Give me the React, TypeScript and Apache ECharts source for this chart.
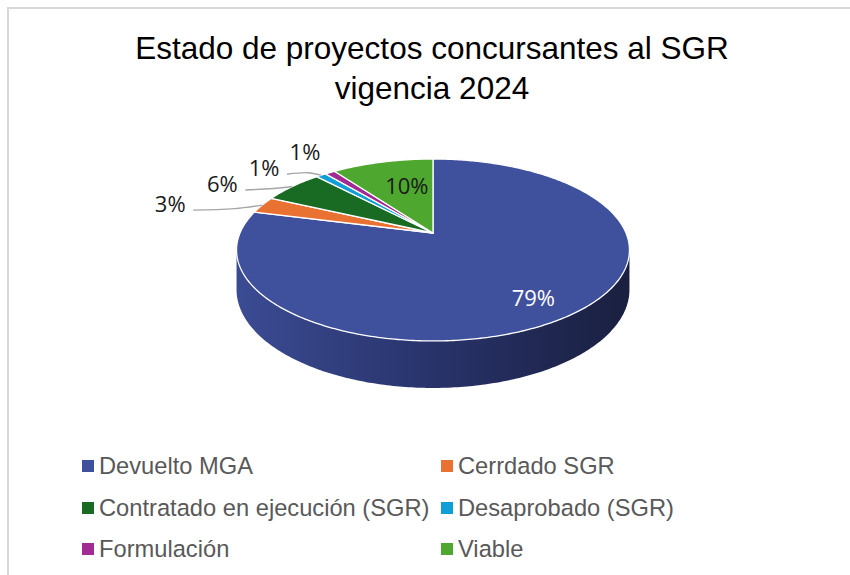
import React, { useEffect, useRef } from 'react';
import * as echarts from 'echarts';

// ---------- data ----------
const categories: string[] = [
  'Devuelto MGA',
  'Cerrdado SGR',
  'Contratado en ejecución (SGR)',
  'Desaprobado (SGR)',
  'Formulación',
  'Viable',
];
const values: number[] = [79, 3, 6, 1, 1, 10];
const titleLines: string[] = ['Estado de proyectos concursantes al SGR', 'vigencia 2024'];

// ---------- styles / layout ----------
const colors = ['#3F519D', '#E97132', '#196B24', '#0F9ED5', '#A02B93', '#4EA72E'];
const labelColors = ['#ffffff', '#1a1a1a', '#1a1a1a', '#1a1a1a', '#1a1a1a', '#1a1a1a'];
// label placement: inside (offset from point at 70% radius) or outside (offset from rim point)
const labelLayout = [
  { inside: true, dx: 8, dy: 10 },
  { inside: false, dx: -92, dy: -2, leader: true },
  { inside: false, dx: -70, dy: -3.5, leader: true },
  { inside: false, dx: -57, dy: -8, leader: true },
  { inside: false, dx: -25, dy: -22, leader: false },
  { inside: true, dx: 11, dy: 4 },
];
const legendPos = [
  { left: 82, top: 452 },
  { left: 441, top: 452 },
  { left: 82, top: 494 },
  { left: 441, top: 494 },
  { left: 82, top: 535 },
  { left: 441, top: 535 },
];

// 3D pie projection parameters (pixels)
const CX = 433;
const CY = 233;
const SX = 193;
const SY = 87.8;
const PB = 0.1868;
const DEPTH = 38.2;

const total = values.reduce((a, b) => a + b, 0);
const starts: number[] = [];
{
  let acc = 0;
  values.forEach((v) => {
    starts.push((acc / total) * Math.PI * 2);
    acc += v;
  });
}
const VIS0 = Math.acos(-PB);
const VIS1 = Math.PI * 2 - VIS0;

function proj(theta: number, r: number, depth = 0): number[] {
  const u = r * Math.sin(theta);
  const v = -r * Math.cos(theta);
  const w = 1 - PB * v;
  const wr = 1 + PB * Math.cos(theta);
  return [CX + (SX * u) / w, CY + (SY * v) / w + (depth * DEPTH) / wr];
}

function arc(a0: number, a1: number, depth: number): number[][] {
  const n = Math.max(2, Math.ceil((a1 - a0) / (Math.PI / 240)));
  const pts: number[][] = [];
  for (let k = 0; k <= n; k++) {
    pts.push(proj(a0 + ((a1 - a0) * k) / n, 1, depth));
  }
  return pts;
}

function sideFill(i: number) {
  if (i === 0) {
    return new echarts.graphic.LinearGradient(
      CX - SX,
      0,
      CX + SX,
      0,
      [
        { offset: 0, color: '#3B4B93' },
        { offset: 0.5, color: '#28336A' },
        { offset: 1, color: '#1A2040' },
      ],
      true
    );
  }
  return echarts.color.lift(colors[i], -0.4);
}

function makeRenderItem(i: number) {
  return (_params: any, _api: any) => {
    const a0 = starts[i];
    const a1 = a0 + (values[i] / total) * Math.PI * 2;
    const children: any[] = [];
    const s0 = Math.max(a0, VIS0);
    const s1 = Math.min(a1, VIS1);
    if (s1 > s0) {
      const topPts = arc(s0, s1, 0);
      const botPts = arc(s0, s1, 1).reverse();
      children.push({
        type: 'polygon',
        shape: { points: topPts.concat(botPts) },
        style: { fill: sideFill(i) },
      });
    }
    children.push({
      type: 'polygon',
      shape: { points: [proj(0, 0)].concat(arc(a0, a1, 0)) },
      style: { fill: colors[i], stroke: '#ffffff', lineWidth: 1.3, lineJoin: 'round' },
    });
    const mid = (a0 + a1) / 2;
    const pct = Math.round((values[i] / total) * 100) + '%';
    const lay: any = labelLayout[i];
    let lx: number;
    let ly: number;
    if (lay.inside) {
      const p = proj(mid, 0.7);
      lx = p[0] + lay.dx;
      ly = p[1] + lay.dy;
    } else {
      const e = proj(mid, 1);
      lx = e[0] + lay.dx;
      ly = e[1] + lay.dy;
      if (lay.leader) {
        const sx = lx + 23;
        const sy = ly + 7;
        children.push({
          type: 'polyline',
          shape: {
            points: [
              [sx, sy],
              [sx + (e[0] - sx) * 0.6, sy - 1.5],
              [e[0], e[1]],
            ],
            smooth: 0.35,
          },
          style: { stroke: '#A6A6A6', lineWidth: 1.3, fill: null },
        });
      }
    }
    children.push({
      type: 'text',
      x: lx,
      y: ly,
      style: {
        text: pct,
        fill: labelColors[i],
        fontSize: 22,
        fontFamily: 'Open Sans',
        align: 'center',
        verticalAlign: 'middle',
      },
    });
    return { type: 'group', children };
  };
}

export default function App() {
  const ref = useRef<HTMLDivElement>(null);
  useEffect(() => {
    if (!ref.current) return;
    const chart = echarts.init(ref.current, null, { renderer: 'svg' });
    const option: any = {
      animation: false,
      backgroundColor: '#ffffff',
      title: {
        text: titleLines.join('\n'),
        left: 432,
        top: 28,
        padding: 0,
        textAlign: 'center',
        textStyle: {
          fontFamily: 'Liberation Sans',
          fontSize: 31.5,
          fontWeight: 'normal',
          color: '#000000',
          lineHeight: 40,
        },
      },
      legend: categories.map((name, i) => ({
        data: [name],
        left: legendPos[i].left,
        top: legendPos[i].top,
        padding: 0,
        icon: 'rect',
        itemWidth: 12,
        itemHeight: 12,
        selectedMode: false,
        textStyle: {
          fontFamily: 'Liberation Sans',
          fontSize: 23.7,
          color: '#595959',
          lineHeight: 28,
        },
      })),
      graphic: [
        {
          type: 'rect',
          shape: { x: 8, y: 8, width: 900, height: 700 },
          style: { fill: 'none', stroke: '#D9D9D9', lineWidth: 2 },
          silent: true,
        },
      ],
      series: categories.map((name, i) => ({
        type: 'custom',
        name,
        coordinateSystem: 'none',
        itemStyle: { color: colors[i] },
        data: [{ name, value: values[i] }],
        renderItem: makeRenderItem(i),
        silent: true,
      })),
    };
    chart.setOption(option);
    return () => chart.dispose();
  }, []);
  return (
    <div
      ref={ref}
      style={{ position: 'absolute', left: 0, top: 0, width: 850, height: 575 }}
    />
  );
}
